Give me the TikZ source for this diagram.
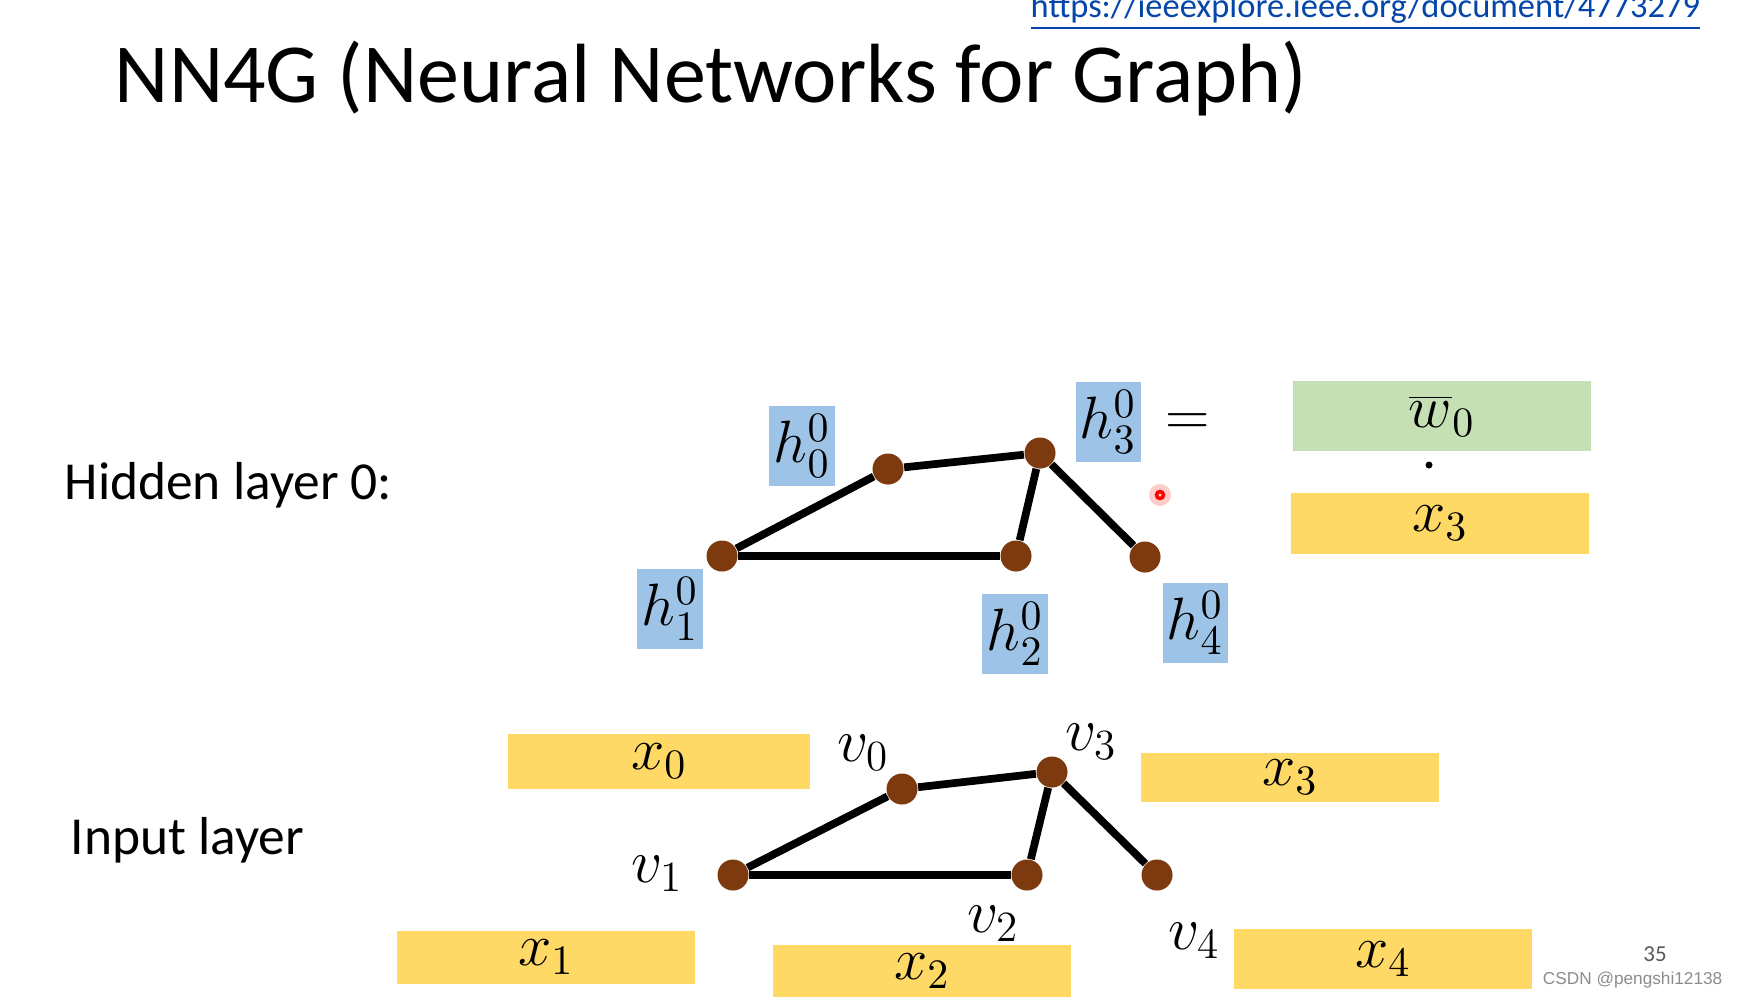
\documentclass[tikz,border=0pt]{standalone}
\usepackage{fix-cm}
\usepackage{fontspec}
\setmainfont{Carlito}
\newfontfamily\wmfont{Liberation Sans}
\usepackage{xcolor}
\usetikzlibrary{positioning}
\definecolor{hblue}{RGB}{157,195,230}
\definecolor{xgold}{RGB}{255,217,102}
\definecolor{wgreen}{RGB}{197,224,180}
\definecolor{vbrown}{RGB}{125,58,14}
\definecolor{linkblue}{RGB}{5,70,170}
\tikzset{
  vert/.style={circle,fill=vbrown,inner sep=0pt,minimum size=0.31cm},
  edge/.style={line width=2.2pt},
  hbox/.style={fill=hblue,inner sep=0pt,minimum width=0.65cm,minimum height=0.79cm,font=\fontsize{17}{20}\selectfont},
  xbox/.style={fill=xgold,inner sep=0pt,minimum width=2.98cm,font=\fontsize{17}{20}\selectfont},
  vlab/.style={inner sep=0pt,font=\fontsize{17.5}{20}\selectfont},
}
\begin{document}
\begin{tikzpicture}[x=0.01cm,y=-0.01cm]
\fill[white] (0,0) rectangle (1737,999);
\useasboundingbox (0,0) rectangle (1737,999);
% Title
\node[anchor=base west,inner sep=0pt,font=\fontsize{23.9}{29}\selectfont] (title) at (114,102) {NN4G (Neural Networks for Graph)};
\node[anchor=base west,inner sep=0pt,text=linkblue,font=\fontsize{9.8}{12}\selectfont] (url) at (1030,17) {\underline{https://ieeexplore.ieee.org/document/4773279}};
% Layer names
\node[anchor=base west,inner sep=0pt,font=\fontsize{15.2}{18}\selectfont] (hidname) at (64,499) {Hidden layer 0:};
\node[anchor=base west,inner sep=0pt,font=\fontsize{15.2}{18}\selectfont] (inname) at (70,854) {Input layer};
% Hidden layer graph
\node[vert] (hv0) at (888,469) {};
\node[vert] (hv1) at (722,556) {};
\node[vert] (hv2) at (1016,556) {};
\node[vert] (hv3) at (1040,453) {};
\node[vert] (hv4) at (1145,557) {};
\draw[edge] (hv1) -- (hv0);
\draw[edge] (hv0) -- (hv3);
\draw[edge] (hv3) -- (hv2);
\draw[edge] (hv3) -- (hv4);
\draw[edge] (hv1) -- (hv2);
\node[hbox] (h0) at (802,446) {$h_0^0$};
\node[hbox] (h1) at (670,609) {$h_1^0$};
\node[hbox] (h2) at (1015,634) {$h_2^0$};
\node[hbox] (h3) at (1108,422) {$h_3^0$};
\node[hbox] (h4) at (1195,623) {$h_4^0$};
% h_3^0 = w_0 . x_3
\node[vlab] (eq) at (1188,425) {$=$};
\node[xbox,fill=wgreen,minimum width=2.97cm,minimum height=0.69cm] (w0) at (1442,416) {$\overline{w}_0$};
\node[circle,fill=black,inner sep=0pt,minimum size=0.07cm] (dotop) at (1429,465) {};
\node[xbox,minimum height=0.61cm] (hx3) at (1440,523) {$x_3$};
% pointer
\node[circle,fill=red!20,inner sep=0pt,minimum size=0.22cm] (glow) at (1160,495) {};
\node[circle,draw=red,line width=1pt,inner sep=0pt,minimum size=0.07cm] (ptr) at (1160,495) {};
% Input layer graph
\node[vert] (iv0) at (902,789) {};
\node[vert] (iv1) at (733,875) {};
\node[vert] (iv2) at (1027,875) {};
\node[vert] (iv3) at (1052,772) {};
\node[vert] (iv4) at (1157,875) {};
\draw[edge] (iv1) -- (iv0);
\draw[edge] (iv0) -- (iv3);
\draw[edge] (iv3) -- (iv2);
\draw[edge] (iv3) -- (iv4);
\draw[edge] (iv1) -- (iv2);
\node[vlab] (lv0) at (863,753) {$v_0$};
\node[vlab] (lv1) at (657,874) {$v_1$};
\node[vlab] (lv2) at (993,924) {$v_2$};
\node[vlab] (lv3) at (1091,742) {$v_3$};
\node[vlab] (lv4) at (1194,941) {$v_4$};
\node[xbox,minimum width=3.02cm,minimum height=0.55cm] (x0) at (659,761) {$x_0$};
\node[xbox,minimum height=0.53cm] (x1) at (546,957) {$x_1$};
\node[xbox,minimum height=0.52cm] (x2) at (922,971) {$x_2$};
\node[xbox,minimum height=0.49cm] (x3) at (1290,777) {$x_3$};
\node[xbox,minimum height=0.60cm] (x4) at (1383,959) {$x_4$};
% Footer
\node[inner sep=0pt,text=black!65,font=\fontsize{6.5}{8}\selectfont] (pagenum) at (1655,954) {35};
\node[anchor=east,inner sep=0pt,text=black!45,font=\wmfont\fontsize{4.9}{6}\selectfont] (wm) at (1723,980) {CSDN @pengshi12138};
\end{tikzpicture}
\end{document}
